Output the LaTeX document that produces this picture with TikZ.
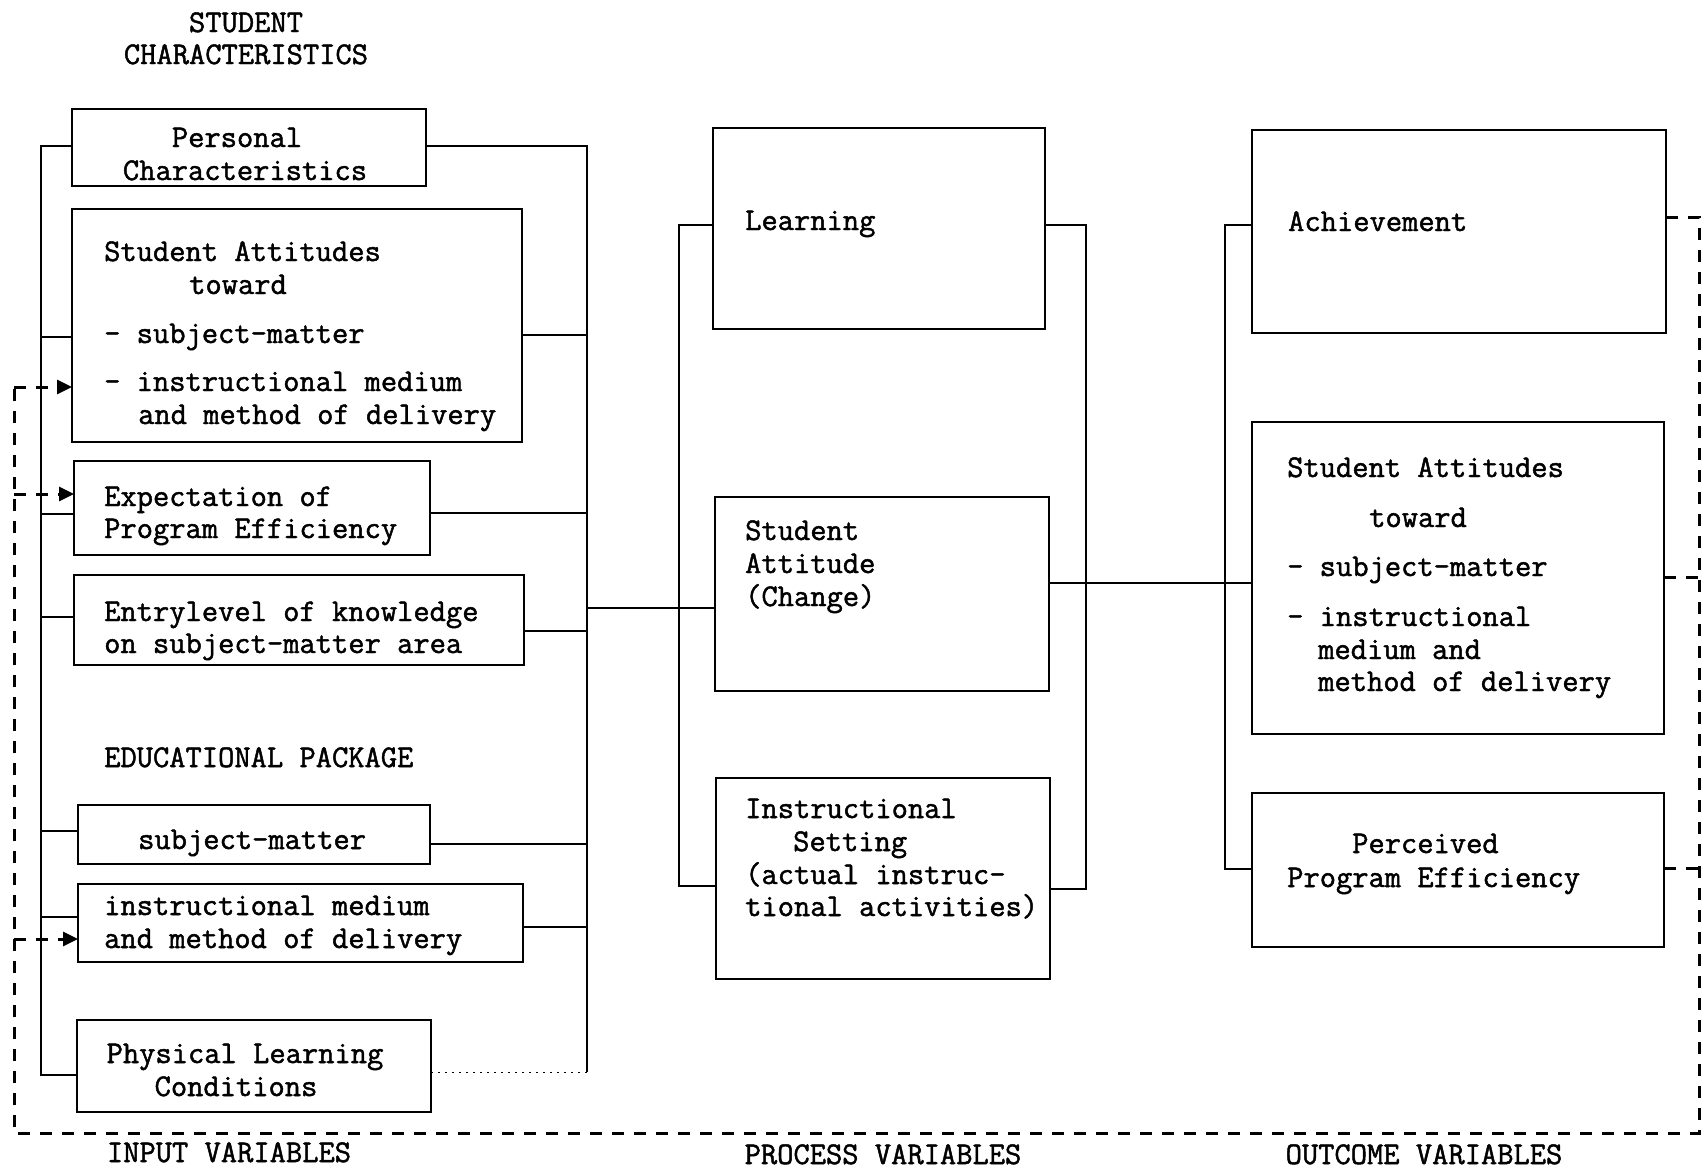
\documentclass[tikz,border=0pt]{standalone}
\usepackage{fontspec}
\usetikzlibrary{arrows.meta}
\newfontfamily\twfont{Latin Modern Mono}[FakeBold=1.5]
\tikzset{
  box/.style={draw, line width=2.8pt, anchor=north west, inner sep=0pt, outer sep=0pt},
  bus/.style={line width=2.8pt},
  link/.style={line width=2pt},
  faint/.style={line width=1pt, dash pattern=on 2pt off 5pt},
  feed/.style={line width=3pt, dash pattern=on 12pt off 10pt},
  tip/.style={-{Triangle[length=15pt,width=14pt]}},
  txt/.style={anchor=base west, inner sep=0pt, font=\twfont\fontsize{31.6}{33}\selectfont},
  ctxt/.style={txt, anchor=base},
}
\begin{document}
\begin{tikzpicture}[x=1pt,y=-1pt]
\useasboundingbox (0,0) rectangle (1704,1170);

% ---------- column headings ----------
\node[ctxt] (h1) at (246,32) {STUDENT};
\node[ctxt] (h2) at (246,64) {CHARACTERISTICS};

% ---------- input boxes ----------
\node[box, minimum width=354pt, minimum height=77pt]  (pc) at (72,109)  {};
\node[box, minimum width=450pt, minimum height=233pt] (sa) at (72,209)  {};
\node[box, minimum width=356pt, minimum height=94pt]  (ex) at (74,461)  {};
\node[box, minimum width=450pt, minimum height=90pt]  (en) at (74,575)  {};
\node[box, minimum width=352pt, minimum height=59pt]  (sm) at (78,805)  {};
\node[box, minimum width=445pt, minimum height=78pt]  (im) at (78,884)  {};
\node[box, minimum width=354pt, minimum height=92pt]  (pl) at (77,1020) {};

\node[ctxt] (pc1) at (237,147) {Personal};
\node[ctxt] (pc2) at (245,180) {Characteristics};

\node[txt] (sa1) at (104,261) {Student Attitudes};
\node[txt] (sa2) at (189,294) {toward};
\node[txt] (sa3) at (104,343) {- subject-matter};
\node[txt] (sa4) at (104,391) {- instructional medium};
\node[txt] (sa5) at (138,424) {and method of delivery};

\node[txt] (ex1) at (104,506) {Expectation of};
\node[txt] (ex2) at (104,538) {Program Efficiency};

\node[txt] (en1) at (104,621) {Entrylevel of knowledge};
\node[txt] (en2) at (104,653) {on subject-matter area};

\node[txt] (edu) at (104,767) {EDUCATIONAL PACKAGE};

\node[txt] (sm1) at (138,849) {subject-matter};

\node[txt] (im1) at (104,915) {instructional medium};
\node[txt] (im2) at (104,948) {and method of delivery};

\node[ctxt] (pl1) at (245,1063) {Physical Learning};
\node[ctxt] (pl2) at (236,1096) {Conditions};

% ---------- process boxes ----------
\node[box, minimum width=332pt, minimum height=201pt] (le) at (713,128) {};
\node[box, minimum width=334pt, minimum height=194pt] (sc) at (715,497) {};
\node[box, minimum width=334pt, minimum height=201pt] (is) at (716,778) {};

\node[txt] (le1) at (745,230) {Learning};

\node[txt] (sc1) at (745,540) {Student};
\node[txt] (sc2) at (745,573) {Attitude};
\node[txt] (sc3) at (745,606) {(Change)};

\node[txt] (is1) at (745,818) {Instructional};
\node[txt] (is2) at (793,851) {Setting};
\node[txt] (is3) at (745,884) {(actual instruc-};
\node[txt] (is4) at (745,916) {tional activities)};

% ---------- outcome boxes ----------
\node[box, minimum width=414pt, minimum height=203pt] (ac) at (1252,130) {};
\node[box, minimum width=412pt, minimum height=312pt] (oa) at (1252,422) {};
\node[box, minimum width=412pt, minimum height=154pt] (pp) at (1252,793) {};

\node[txt] (ac1) at (1288,231) {Achievement};

\node[txt] (oa1) at (1287,477) {Student Attitudes};
\node[txt] (oa2) at (1369,527) {toward};
\node[txt] (oa3) at (1287,576) {- subject-matter};
\node[txt] (oa4) at (1287,626) {- instructional};
\node[txt] (oa5) at (1318,659) {medium and};
\node[txt] (oa6) at (1318,691) {method of delivery};

\node[txt] (pp1) at (1352,853) {Perceived};
\node[txt] (pp2) at (1287,887) {Program Efficiency};

% ---------- bottom labels ----------
\node[ctxt] (lin)  at (229,1162)  {INPUT VARIABLES};
\node[ctxt] (lpr)  at (883,1164)  {PROCESS VARIABLES};
\node[ctxt] (lout) at (1424,1164) {OUTCOME VARIABLES};

% ---------- bus junctions ----------
\coordinate (L1) at (41,146);  \coordinate (L2) at (41,337);
\coordinate (L3) at (41,514);  \coordinate (L4) at (41,617);
\coordinate (L5) at (41,831);  \coordinate (L6) at (41,917);
\coordinate (L7) at (41,1075);

\coordinate (R1) at (587,146);  \coordinate (R2) at (587,335);
\coordinate (R3) at (587,513);  \coordinate (R4) at (587,631);
\coordinate (R5) at (587,844);  \coordinate (R6) at (587,927);
\coordinate (R7) at (587,1072); \coordinate (RM) at (587,608);

\coordinate (P1) at (679,225);  \coordinate (P2) at (679,886);
\coordinate (Q1) at (1086,225); \coordinate (Q2) at (1086,889);
\coordinate (O1) at (1225,225); \coordinate (O2) at (1225,869);
\coordinate (M1) at (1086,583);

\coordinate (F1) at (1699,217); \coordinate (F2) at (1699,577);
\coordinate (F3) at (1699,868); \coordinate (F4) at (1699,1133);
\coordinate (G0) at (14,1133);  \coordinate (G1) at (14,387);
\coordinate (G2) at (14,494);   \coordinate (G3) at (14,939);

% ---------- input buses and links ----------
\draw[bus] (pc.west |- L1) -- (L1) -- (L7) -- (pl.west |- L7);
\draw[link] (L2) -- (sa.west |- L2);
\draw[link] (L3) -- (ex.west |- L3);
\draw[link] (L4) -- (en.west |- L4);
\draw[link] (L5) -- (sm.west |- L5);
\draw[link] (L6) -- (im.west |- L6);

\draw[bus] (pc.east |- R1) -- (R1) -- (R7);
\draw[link] (sa.east |- R2) -- (R2);
\draw[link] (ex.east |- R3) -- (R3);
\draw[link] (en.east |- R4) -- (R4);
\draw[link] (sm.east |- R5) -- (R5);
\draw[link] (im.east |- R6) -- (R6);
\draw[faint] (pl.east |- R7) -- (R7);

% input to process
\draw[link] (RM) -- (sc.west |- RM);

% ---------- process buses ----------
\draw[bus] (le.west |- P1) -- (P1) -- (P2) -- (is.west |- P2);
\draw[bus] (le.east |- Q1) -- (Q1) -- (Q2) -- (is.east |- Q2);

% process to outcome
\draw[link] (sc.east |- M1) -- (oa.west |- M1);

% ---------- outcome bus ----------
\draw[bus] (ac.west |- O1) -- (O1) -- (O2) -- (pp.west |- O2);

% ---------- feedback loop ----------
\draw[feed] (ac.east |- F1) -- (F1) -- (F4) -- (G0) -- (G1);
\draw[feed] (oa.east |- F2) -- (F2);
\draw[feed] (pp.east |- F3) -- (F3);
\draw[feed, tip] (G1) -- (sa.west |- G1);
\draw[feed, tip] (G2) -- (ex.west |- G2);
\draw[feed, tip] (G3) -- (im.west |- G3);
\end{tikzpicture}
\end{document}
